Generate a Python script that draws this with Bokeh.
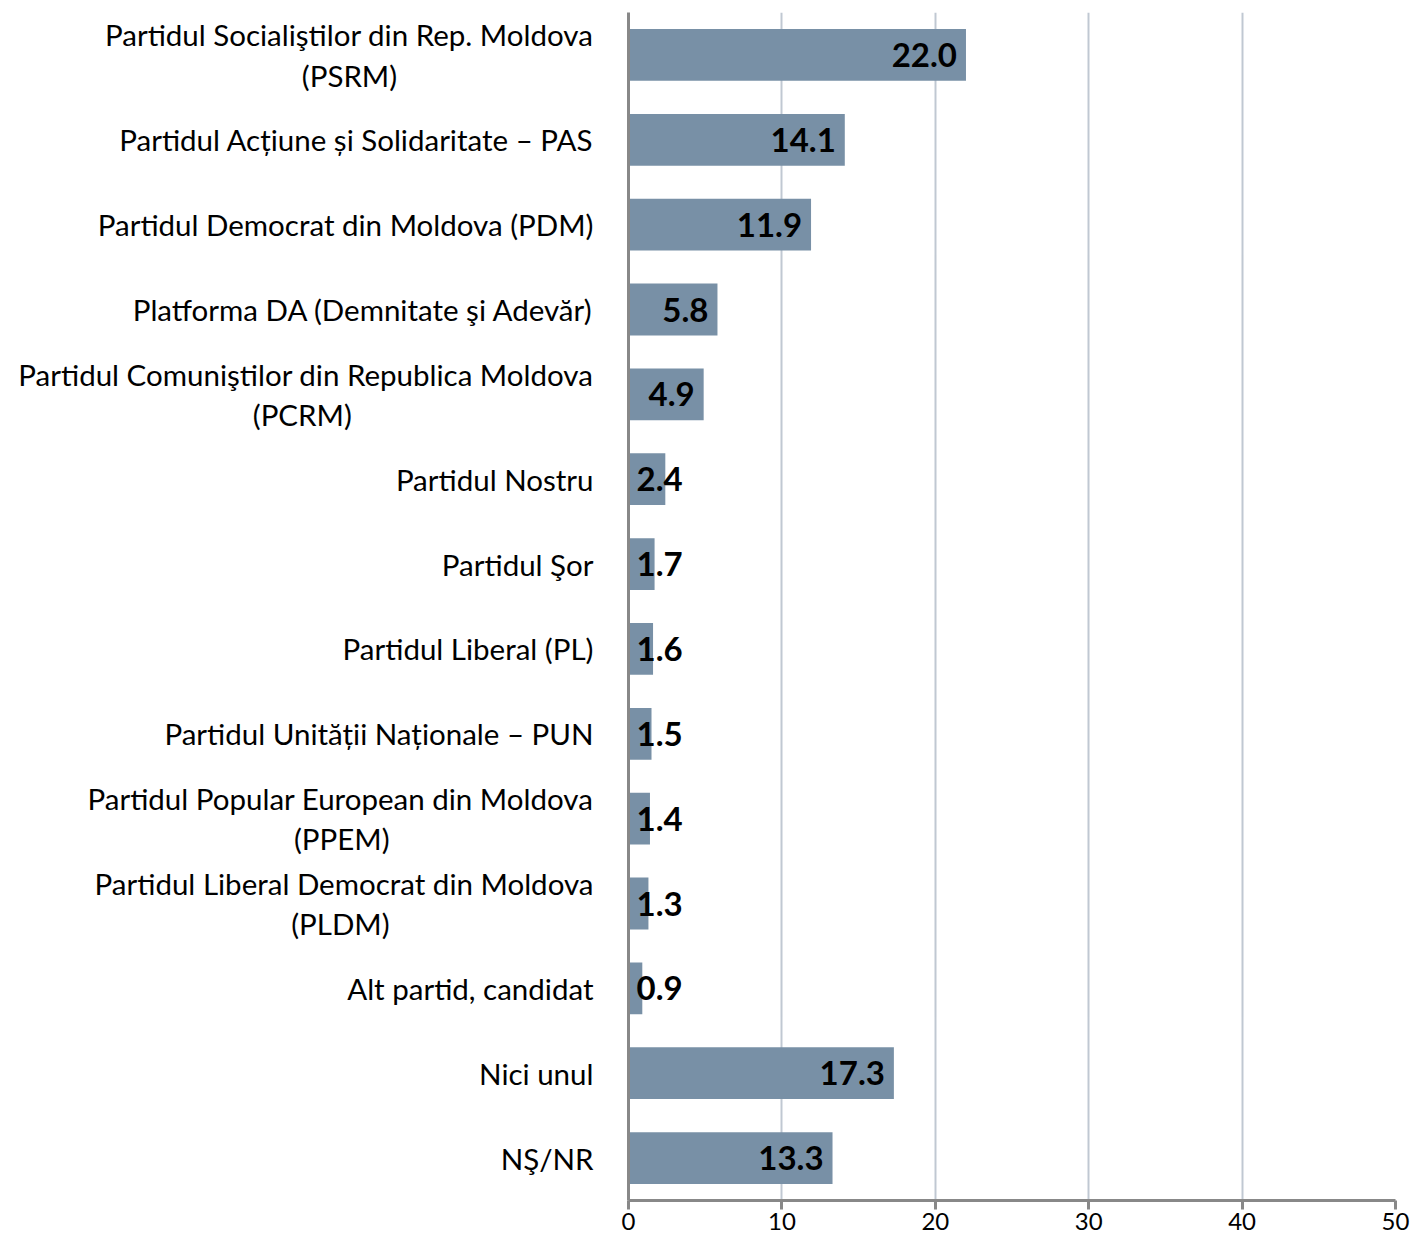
from bokeh.plotting import figure
from bokeh.models import ColumnDataSource, FactorRange, Range1d, FixedTicker
from bokeh.core.properties import value
from bokeh.embed import file_html
from bokeh.resources import INLINE

# ---- data ----
categories = [
    "Partidul Socialiştilor din Rep. Moldova\n(PSRM)",
    "Partidul Acțiune și Solidaritate – PAS",
    "Partidul Democrat din Moldova (PDM)",
    "Platforma DA (Demnitate şi Adevăr)",
    "Partidul Comuniştilor din Republica Moldova\n(PCRM)",
    "Partidul Nostru",
    "Partidul Şor",
    "Partidul Liberal (PL)",
    "Partidul Unității Naționale – PUN",
    "Partidul Popular European din Moldova\n(PPEM)",
    "Partidul Liberal Democrat din Moldova\n(PLDM)",
    "Alt partid, candidat",
    "Nici unul",
    "NŞ/NR",
]
values = [22.0, 14.1, 11.9, 5.8, 4.9, 2.4, 1.7, 1.6, 1.5, 1.4, 1.3, 0.9, 17.3, 13.3]
x_ticks = [0, 10, 20, 30, 40, 50]

FONT = "Lato"
BAR = "#7890A6"

# styling only: non-breaking spaces appended to the second line of wrapped
# labels so that the second line appears centred under the first one
second_line_pad = [26, 0, 0, 0, 32, 0, 0, 0, 0, 27, 27, 0, 0, 0]
shown = [c + "\u00a0" * n for c, n in zip(categories, second_line_pad)]

p = figure(width=1410, height=1240,
           y_range=FactorRange(factors=shown[::-1]),
           x_range=Range1d(0, 50),
           output_backend="svg", toolbar_location=None,
           min_border_left=628, min_border_right=15,
           min_border_top=12, min_border_bottom=40)
p.outline_line_color = None
p.background_fill_color = "white"
p.border_fill_color = "white"

p.hbar(y=shown, left=0, right=values, height=0.61,
       fill_color=BAR, line_color=None)

# value labels
lab_x, lab_off, lab_y, lab_t, lab_al = [], [], [], [], []
for c, v in zip(shown, values):
    lab_y.append(c)
    lab_t.append(f"{v:.1f}")
    if v >= 4:
        lab_x.append(v); lab_off.append(-9); lab_al.append("right")
    else:
        lab_x.append(0); lab_off.append(8); lab_al.append("left")
vsrc = ColumnDataSource(dict(x=lab_x, y=lab_y, t=lab_t, off=lab_off, al=lab_al))
p.text(x="x", y="y", text="t", x_offset="off", text_align="al", source=vsrc,
       text_baseline="middle", text_font=value(FONT), text_font_style="bold",
       text_font_size="33px", text_color="black")

# axes
p.xaxis.ticker = FixedTicker(ticks=x_ticks)
p.xaxis.axis_line_color = "#888888"
p.xaxis.axis_line_width = 3
p.xaxis.major_tick_line_color = "#888888"
p.xaxis.major_tick_line_width = 3
p.xaxis.major_tick_out = 9
p.xaxis.major_tick_in = 0
p.xaxis.minor_tick_line_color = None
p.xaxis.major_label_standoff = 3
p.xaxis.major_label_text_font = FONT
p.xaxis.major_label_text_font_size = "24px"
p.xaxis.major_label_text_color = "black"

p.yaxis.axis_line_color = "#888888"
p.yaxis.axis_line_width = 3
p.yaxis.major_tick_line_color = None
p.yaxis.minor_tick_line_color = None
p.yaxis.major_label_standoff = 29
p.yaxis.major_label_text_font = FONT
p.yaxis.major_label_text_font_size = "29.5px"
p.yaxis.major_label_text_color = "black"
p.yaxis.major_label_text_line_height = 1.15

p.xgrid.ticker = FixedTicker(ticks=x_ticks)
p.xgrid.grid_line_color = "#C0C8D2"
p.xgrid.grid_line_width = 2
p.ygrid.grid_line_color = None

open("out.html", "w").write(file_html(p, INLINE))
